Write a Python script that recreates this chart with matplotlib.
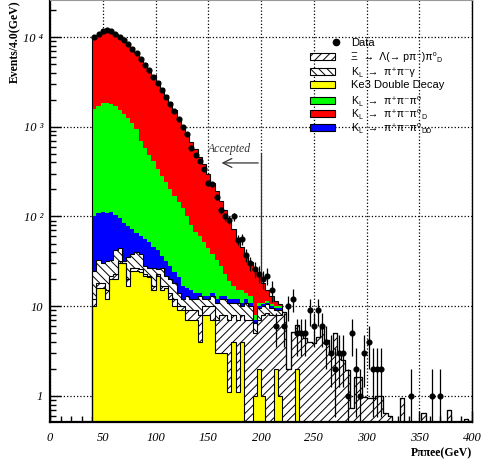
import numpy as np
import matplotlib
matplotlib.use('Agg')
import matplotlib.pyplot as plt
from matplotlib.patches import Rectangle
from matplotlib.transforms import IdentityTransform
from matplotlib.ticker import MultipleLocator, LogLocator, FixedLocator, FixedFormatter, NullFormatter

# 4 GeV bins from 40 to 400 GeV
edges = np.arange(40, 404, 4)

# stacked MC components (events / bin), bottom to top
ke3_double = [10, 16, 16, 12, 20, 20, 30, 30, 17, 25, 25, 24, 22, 21, 15, 22, 15, 16, 12, 10,
              9, 9, 7, 7, 7, 4, 8, 8, 7, 3, 3, 3, 1.1, 4, 1.1, 4, 0, 0, 1, 2,
              1, 0, 0, 2, 1,
              0, 0, 0, 2, 0] + [0] * 39 + [0.52]
xi_lambda = [2, 2, 2, 3, 2, 3, 2, 0.5, 3, 2, 2, 2, 1, 1, 2, 1, 2, 1, 2, 2,
             1, 1, 2, 2, 2, 4, 2, 2, 3, 4, 5, 5, 6, 4, 6, 4, 7, 7, 4, 5,
             7, 8.5, 8, 6, 7,
             8.7, 2.0, 5.2, 4.2, 5.2, 4.4, 4.0, 3.9, 4.6, 5.9, 4.2, 3.1, 5.0, 3.1, 2.5,
             1.95, 0.74, 1.64, 1.64, 0.98, 0.95, 0.95, 1.0, 1.0, 0.65, 0.6, 0, 0, 0.95, 0,
             0, 0, 0, 0.65, 0, 0, 0, 0, 0, 0.7, 0, 0, 0, 0.55, 0]
kl_gamma = [13, 15, 12, 17, 11, 19, 13, 1.5, 15, 11, 13, 12, 5, 5, 10, 3, 10, 5, 6, 6,
            4, 2, 4, 3, 3, 5, 2, 2, 3, 4, 4, 4, 3.9, 3, 3.9, 2, 4, 3, 1.5, 2.5,
            2, 2, 1.5, 1, 1] + [0] * 45
kl_3pi_dd = [75, 77, 82, 78, 79, 63, 50, 53, 43, 34, 26, 22, 28, 25, 19, 16, 9, 10, 8, 6,
             7, 5, 3, 3, 2, 1, 1, 1, 1, 1, 1, 1, 1, 1, 1, 1, 1, 1, 0.5, 0.5,
             0.5, 0.5, 0.5, 0.5, 0.5] + [0] * 45
kl_3pi = [1480, 1590, 1708, 1740, 1688, 1595, 1455, 1315, 1172, 1028, 884, 640, 524, 438, 364,
          298, 249, 208, 172, 144, 124, 108, 84, 65, 54, 46, 39, 31, 24, 21,
          15, 10, 7, 5, 3, 4, 2, 2, 1, 1, 0.5, 0.5, 0.5, 0.5, 0.5] + [0] * 45
kl_3pi_d = [8120, 8800, 9380, 9650, 9500, 9100, 8450, 7900, 7250, 6600, 5850, 5200, 4520, 3910, 3340,
            2860, 2415, 2010, 1670, 1382, 1115, 875, 720, 600, 492, 400, 328, 256, 197, 157,
            122, 95, 73, 55, 42, 31, 23, 18, 18, 11, 7, 3.5, 2.5, 1.5, 0.5] + [0] * 45

data = [9900, 10900, 11800, 12000, 11600, 10800, 10100, 9300, 8400, 7400, 6600, 5700, 4900, 4300, 3600,
        3050, 2600, 2150, 1800, 1500, 1230, 1000, 820, 580, 485, 420, 340, 236, 230, 166,
        118, 100, 91, 100, 55, 56, 37, 30, 26, 23, 20, 22, 15, 6, 0,
        6, 10, 12, 5, 5, 5, 9, 6, 9, 6, 4, 3, 2, 3, 3, 1, 5, 2, 1, 3,
        4, 2, 2, 2, 0, 0, 0, 0, 0, 0, 1, 0, 0, 0, 0, 1, 0, 1, 0, 0,
        0, 0, 0, 0, 0]

fig = plt.figure(figsize=(4.82, 4.65), dpi=100)
ax = fig.add_axes([50 / 482, 43 / 465, 422 / 482, 422 / 465])
ax.set_yscale('log', nonpositive='clip')
plt.rcParams['hatch.linewidth'] = 0.7

layers = [ke3_double, xi_lambda, kl_gamma, kl_3pi_dd, kl_3pi, kl_3pi_d]
fills = ['#ffff00', 'white', 'white', '#0000ff', '#00ff00', '#ff0000']
hatches = [None, '////', '\\\\\\\\', None, None, None]

bottom = np.zeros(len(edges) - 1)
tops = []
for vals, fc, h in zip(layers, fills, hatches):
    top = bottom + np.array(vals, dtype=float)
    ax.stairs(top, edges, baseline=np.maximum(bottom, 0.05), fill=True,
              facecolor=fc, edgecolor='black' if h else fc, hatch=h, lw=0, zorder=1)
    tops.append(top)
    bottom = top

# black outlines: yellow, hatched and total
for k in [0, 1, 2, 5]:
    ax.stairs(tops[k], edges, color='black', lw=0.8, zorder=2)

centers = edges[:-1] + 2
n = np.array(data, dtype=float)
m = n > 0
err = np.sqrt(n[m])
lo = np.where(n[m] - err <= 0, n[m] - 1e-3, err)
ax.errorbar(centers[m], n[m], yerr=[lo, err], fmt='o', ms=3.4, color='black',
            ecolor='black', elinewidth=0.9, capsize=0, zorder=4)

ax.set_xlim(0, 400)
ax.set_ylim(0.513, 25840)
ax.set_axisbelow(True)
ax.grid(True, which='major', linestyle=':', color='black', lw=0.9)

ax.xaxis.set_major_locator(MultipleLocator(50))
ax.xaxis.set_minor_locator(MultipleLocator(10))
ax.yaxis.set_major_locator(FixedLocator([1, 10, 100, 1000, 10000]))
ax.yaxis.set_major_formatter(FixedFormatter(['1', '10', '10 ²', '10 ³', '10 ⁴']))
ax.yaxis.set_minor_locator(LogLocator(base=10, subs=np.arange(2, 10)))
ax.yaxis.set_minor_formatter(NullFormatter())
ax.tick_params(which='both', direction='in', top=False, right=False, width=1)
ax.tick_params(which='major', length=8)
ax.tick_params(which='minor', length=4)
ax.tick_params(axis='x', pad=7)
ax.tick_params(axis='y', pad=5)
for lab in ax.get_xticklabels() + ax.get_yticklabels():
    lab.set_family(['Liberation Serif', 'DejaVu Serif'])
    lab.set_style('italic')
    lab.set_size(9)

for s in ['left', 'bottom']:
    ax.spines[s].set_linewidth(1.6)
ax.spines['right'].set_linewidth(1.0)
ax.spines['top'].set_color('#999999')

ax.set_ylabel('Events/4.0(GeV)', loc='top', family='Liberation Serif',
              fontweight='bold', fontsize=8.5)
ax.yaxis.set_label_coords(-29 / 422, 1.0)
ax.set_xlabel('Pππee(GeV)', loc='right', family='Liberation Serif',
              fontweight='bold', fontsize=8.5)
ax.xaxis.set_label_coords(1.0, -25 / 422)

# acceptance cut
ax.plot([200, 200], [21, 510], color='#333333', lw=0.9, zorder=3)
ax.annotate('', xy=(160, 395), xytext=(200, 395),
            arrowprops=dict(arrowstyle='->', color='#333333', lw=0.9, mutation_scale=16))
ax.text(170, 560, 'Accepted', family='Liberation Serif', style='italic',
        fontsize=8.5, ha='center', va='center', color='#333333')

# legend, built piece by piece in pixel coordinates (y measured from the top)
H = 465
ident = IdentityTransform()
renderer = fig.canvas.get_renderer()
sans = ['Liberation Sans', 'DejaVu Sans']

def piece(x, py, s, fs):
    t = fig.text(x, H - py, s, transform=ident, fontsize=fs, family=sans,
                 ha='left', va='baseline')
    return t.get_window_extent(renderer).width

def legend_row(py, parts):
    # parts: ('n', text) normal size, ('s', text) small lowered subscript
    x = 351
    for kind, s in parts:
        if kind == 'n':
            x += piece(x, py, s, 7.6)
        else:
            x += piece(x, py + 2.5, s, 5)

rows = [56, 71, 84, 100, 113, 127]
leg_fc = ['white', 'white', '#ffff00', '#00ff00', '#ff0000', '#0000ff']
leg_h = ['////', '\\\\\\\\', None, None, None, None]
for fc, h, r in zip(leg_fc, leg_h, rows):
    fig.add_artist(Rectangle((310, H - r - 3.5), 25, 7, transform=ident,
                             facecolor=fc, edgecolor='black', hatch=h, lw=0.8))

fig.add_artist(plt.Line2D([336], [H - 42], marker='o', color='black', ms=4.5,
                          transform=ident))
piece(351, 45.5, 'Data', 8)
legend_row(rows[0] + 3.5, [('n', 'Ξ  →  Λ(→ pπ⁻)π⁰'), ('s', 'D')])
legend_row(rows[1] + 3.5, [('n', 'K'), ('s', 'L'), ('n', '  →  π⁺π⁻γ')])
piece(351, rows[2] + 3.5, 'Ke3 Double Decay', 8)
legend_row(rows[3] + 3.5, [('n', 'K'), ('s', 'L'), ('n', '  →  π⁺π⁻π⁰')])
legend_row(rows[4] + 3.5, [('n', 'K'), ('s', 'L'), ('n', '  →  π⁺π⁻π⁰'), ('s', 'D')])
legend_row(rows[5] + 3.5, [('n', 'K'), ('s', 'L'), ('n', '  →  π⁺π⁻π⁰'), ('s', 'DD')])

fig.savefig('out.png', dpi=100)
